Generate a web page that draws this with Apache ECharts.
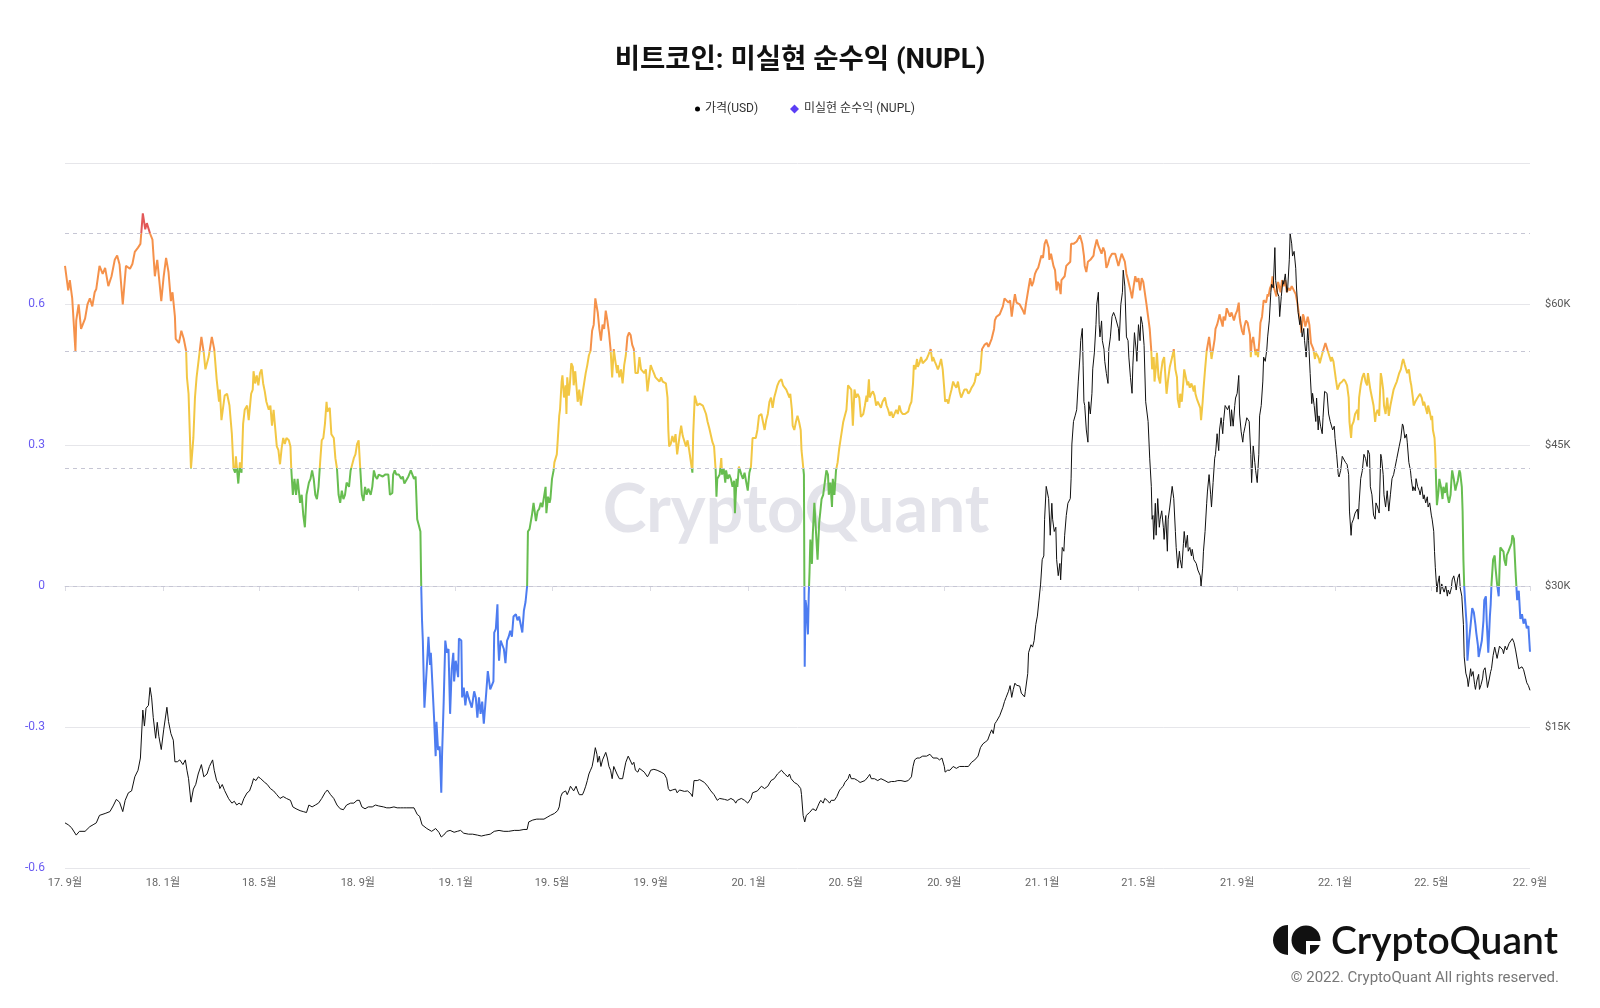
<!DOCTYPE html>
<html>
<head>
<meta charset="utf-8">
<script src="https://cdn.jsdelivr.net/npm/echarts@6/dist/echarts.min.js"></script>
<style>
html,body{margin:0;padding:0;background:#fff;}
#chart{width:1600px;height:1008px;}
</style>
</head>
<body>
<div id="chart"></div>
<script>
// ---- data ----
const startDate = '2017-09-01';
const dayCount = 1827;
const xTickDates = ['2017-09-01','2018-01-01','2018-05-01','2018-09-01','2019-01-01','2019-05-01','2019-09-01','2020-01-01','2020-05-01','2020-09-01','2021-01-01','2021-05-01','2021-09-01','2022-01-01','2022-05-01','2022-09-01'];
const xTickLabels = ['17. 9월','18. 1월','18. 5월','18. 9월','19. 1월','19. 5월','19. 9월','20. 1월','20. 5월','20. 9월','21. 1월','21. 5월','21. 9월','22. 1월','22. 5월','22. 9월'];
const nuplThresholds = [0, 0.25, 0.5, 0.75];
const nuplBandColors = ['#4d7cf0', '#67bd50', '#f2c744', '#f5914a', '#e25858'];

// NUPL: [day offset from startDate, value]
const nuplPoints = [
[0,0.681],[4,0.629],[6,0.651],[9,0.612],[13,0.5],[14,0.565],[17,0.599],[20,0.547],[25,0.569],[28,0.599],[31,0.612],[34,0.595],[37,0.625],[39,0.632],[43,0.681],[47,0.664],[50,0.677],[54,0.638],[58,0.659],[62,0.694],[65,0.703],[68,0.684],[72,0.599],[76,0.681],[81,0.675],[84,0.685],[87,0.711],[91,0.72],[94,0.728],[97,0.793],[100,0.759],[102,0.772],[106,0.75],[109,0.737],[112,0.659],[115,0.694],[117,0.659],[120,0.606],[123,0.659],[126,0.698],[129,0.668],[132,0.606],[134,0.625],[137,0.573],[138,0.526],[142,0.517],[145,0.543],[148,0.526],[151,0.5],[152,0.444],[154,0.409],[157,0.25],[160,0.315],[162,0.401],[164,0.444],[167,0.487],[170,0.53],[173,0.496],[175,0.461],[179,0.487],[183,0.53],[186,0.504],[189,0.44],[192,0.392],
[193,0.418],[195,0.353],[197,0.349],[199,0.405],[202,0.409],[205,0.384],[208,0.323],[210,0.25],[212,0.241],[213,0.276],[215,0.237],[216,0.218],[218,0.263],[220,0.241],[222,0.345],[224,0.375],[227,0.384],[229,0.353],[232,0.409],[234,0.418],[235,0.457],[237,0.431],[239,0.448],[241,0.427],[243,0.453],[245,0.461],[247,0.431],[249,0.414],[251,0.392],[254,0.375],[256,0.384],[258,0.341],[260,0.375],[262,0.336],[264,0.297],[266,0.289],[268,0.259],[270,0.293],[272,0.315],[274,0.302],[276,0.315],[279,0.31],[281,0.297],[282,0.25],[284,0.194],[286,0.228],[288,0.194],[290,0.228],[292,0.228],[293,0.177],[295,0.194],[297,0.151],[299,0.125],[301,0.194],[304,0.22],[306,0.228],[308,0.246],[310,0.228],[312,0.194],[314,0.185],[316,0.211],[318,0.263],[320,0.31],[322,0.315],[324,0.345],[326,0.392],[327,0.371],[330,0.379],[332,0.323],[335,0.315],[337,0.272],[339,0.25],[341,0.194],[343,0.177],[345,0.203],[347,0.185],[349,0.194],[351,0.22],[354,0.211],[356,0.246],[358,0.25],[360,0.272],[362,0.28],[364,0.302],[366,0.31],[368,0.25],[370,0.194],[372,0.181],[374,0.211],[376,0.194],[378,0.207],[381,0.194],[383,0.211],[385,0.246],[387,0.233],[389,0.228],[391,0.237],
[393,0.241],[396,0.233],[399,0.237],[401,0.241],[403,0.237],[405,0.194],[408,0.198],[409,0.237],[411,0.246],[413,0.237],[416,0.237],[419,0.228],[421,0.233],[423,0.218],[425,0.224],[428,0.233],[431,0.246],[433,0.237],[435,0.228],[437,0.233],[439,0.142],[441,0.129],[443,0.116],[444,0],[445,-0.073],[446,-0.116],[448,-0.259],[450,-0.263],[452,-0.142],[453,-0.108],[455,-0.168],[456,-0.142],[458,-0.211],[460,-0.28],[462,-0.362],[463,-0.289],[465,-0.349],[467,-0.341],[469,-0.44],[470,-0.358],[472,-0.246],[474,-0.116],[476,-0.142],[478,-0.134],[480,-0.272],[482,-0.177],[484,-0.142],[485,-0.203],[487,-0.159],[490,-0.194],[491,-0.112],[494,-0.116],[495,-0.237],[497,-0.216],[499,-0.254],[501,-0.224],[503,-0.237],[505,-0.237],[507,-0.259],[510,-0.224],[512,-0.237],[514,-0.28],[516,-0.237],[518,-0.272],[520,-0.246],[522,-0.293],[524,-0.289],[525,-0.228],[527,-0.181],[530,-0.22],[532,-0.22],[534,-0.203],[535,-0.099],[537,-0.091],[539,-0.039],[540,-0.125],[541,-0.159],[543,-0.116],[545,-0.125],[547,-0.134],[549,-0.164],[551,-0.116],[553,-0.108],[555,-0.095],[557,-0.108],[559,-0.065],[562,-0.06],[564,-0.073],[566,-0.065],[568,-0.082],[570,-0.099],[572,-0.052],[574,-0.034],[576,0],[577,0.116],[579,0.121],[582,0.151],[584,0.177],[585,0.181],[587,0.138],[589,0.159],[591,0.164],
[593,0.177],[595,0.168],[597,0.172],[599,0.211],[600,0.155],[602,0.19],[604,0.177],[605,0.185],[607,0.228],[609,0.246],[610,0.263],[613,0.28],[614,0.306],[616,0.362],[617,0.375],[619,0.435],[620,0.448],[622,0.401],[624,0.427],[625,0.366],[626,0.444],[628,0.405],[629,0.422],[631,0.474],[633,0.466],[634,0.427],[636,0.457],[638,0.461],[639,0.392],[641,0.418],[643,0.384],[645,0.409],[647,0.405],[649,0.453],[651,0.47],[653,0.491],[655,0.5],[657,0.543],[659,0.556],[661,0.612],[664,0.582],[666,0.547],[668,0.522],[670,0.556],[672,0.547],[674,0.586],[676,0.565],[678,0.539],[680,0.504],[682,0.444],[684,0.504],[685,0.5],[688,0.453],[689,0.47],[691,0.444],[693,0.461],[695,0.431],[697,0.47],[699,0.491],[701,0.53],[703,0.539],[705,0.534],[707,0.513],[709,0.504],[711,0.453],[714,0.453],[716,0.487],[718,0.461],[720,0.457],[722,0.453],[724,0.461],[726,0.414],[728,0.418],[730,0.47],[732,0.461],[734,0.453],[736,0.444],[738,0.448],[741,0.435],[743,0.444],[745,0.435],[747,0.435],[749,0.431],[751,0.401],[752,0.332],[753,0.297],[755,0.302],[757,0.319],[759,0.306],[761,0.323],[763,0.28],[766,0.319],[768,0.341],[770,0.319],[772,0.315],[774,0.297],[776,0.31],[778,0.289],[780,0.293],[782,0.241],[783,0.323],[785,0.405],[787,0.392],[788,0.384],[791,0.388],
[793,0.392],[795,0.384],[797,0.388],[799,0.366],[801,0.349],[803,0.336],[805,0.332],[807,0.306],[809,0.297],[811,0.246],[812,0.19],[813,0.228],[816,0.237],[818,0.272],[819,0.237],[821,0.25],[823,0.22],[824,0.246],[826,0.228],[828,0.237],[830,0.228],[832,0.211],[834,0.224],[835,0.155],[837,0.228],[838,0.211],[840,0.254],[843,0.237],[845,0.228],[847,0.241],[849,0.237],[851,0.203],[853,0.241],[855,0.254],[857,0.315],[859,0.319],[861,0.315],[863,0.332],[865,0.362],[868,0.366],[870,0.349],[872,0.332],[874,0.353],[876,0.366],[878,0.392],[880,0.401],[882,0.379],[884,0.401],[886,0.414],[888,0.427],[890,0.435],[893,0.44],[895,0.427],[897,0.431],[899,0.418],[901,0.422],[903,0.401],[904,0.409],[906,0.375],[907,0.341],[909,0.332],[911,0.349],[913,0.362],[915,0.349],[917,0.332],[918,0.289],[919,0.272],[921,0.237],[922,-0.172],[923,-0.03],[924,-0.043],[926,-0.103],[927,-0.02],[928,0.03],[929,0.099],[931,0.047],[932,0.108],[934,0.177],[936,0.177],[938,0.056],[940,0.134],[942,0.168],[943,0.185],[945,0.194],[947,0.22],[949,0.246],[951,0.237],[952,0.194],[954,0.22],[956,0.168],[957,0.228],[959,0.194],[961,0.246],[963,0.263],[965,0.293],[967,0.297],[970,0.349],[972,0.362],[974,0.375],[976,0.427],[978,0.431],[980,0.418],[982,0.341],[984,0.418],[986,0.401],[988,0.409],[990,0.401],
[992,0.36],[995,0.366],[997,0.384],[999,0.405],[1000,0.392],[1002,0.44],[1003,0.401],[1005,0.409],[1007,0.414],[1009,0.405],[1011,0.384],[1013,0.392],[1015,0.388],[1017,0.379],[1019,0.392],[1022,0.401],[1024,0.384],[1026,0.375],[1028,0.362],[1030,0.371],[1032,0.358],[1034,0.362],[1036,0.375],[1038,0.366],[1040,0.384],[1042,0.371],[1044,0.366],[1047,0.366],[1049,0.362],[1051,0.371],[1053,0.384],[1055,0.392],[1057,0.431],[1058,0.47],[1060,0.461],[1062,0.483],[1063,0.466],[1065,0.474],[1067,0.487],[1069,0.474],[1071,0.478],[1074,0.483],[1076,0.491],[1078,0.487],[1079,0.504],[1081,0.478],[1082,0.487],[1084,0.478],[1086,0.47],[1088,0.461],[1090,0.47],[1092,0.483],[1094,0.461],[1096,0.418],[1097,0.392],[1099,0.397],[1101,0.388],[1103,0.405],[1105,0.418],[1107,0.435],[1109,0.427],[1111,0.422],[1113,0.435],[1115,0.414],[1117,0.401],[1119,0.397],[1121,0.418],[1124,0.418],[1126,0.409],[1128,0.414],[1130,0.422],[1132,0.427],[1134,0.435],[1136,0.453],[1138,0.448],[1140,0.453],[1141,0.461],[1143,0.504],[1145,0.504],[1146,0.513],[1149,0.517],[1151,0.509],[1153,0.517],[1155,0.526],[1157,0.522],[1158,0.547],[1159,0.565],[1161,0.573],[1163,0.569],[1165,0.578],[1167,0.582],[1169,0.595],[1171,0.612],[1173,0.616],[1176,0.603],[1178,0.608],[1180,0.573],[1182,0.599],[1184,0.621],[1186,0.603],[1188,0.599],[1190,0.599],
[1192,0.599],[1194,0.586],[1196,0.578],[1197,0.591],[1198,0.603],[1201,0.634],[1203,0.655],[1205,0.638],[1207,0.647],[1209,0.664],[1211,0.672],[1213,0.677],[1215,0.69],[1217,0.703],[1219,0.698],[1221,0.728],[1223,0.737],[1226,0.72],[1227,0.694],[1229,0.707],[1231,0.69],[1232,0.681],[1234,0.672],[1236,0.629],[1237,0.647],[1239,0.642],[1241,0.621],[1242,0.651],[1244,0.651],[1246,0.659],[1248,0.681],[1250,0.685],[1253,0.69],[1254,0.728],[1255,0.724],[1257,0.728],[1259,0.724],[1261,0.733],[1263,0.737],[1265,0.746],[1267,0.746],[1268,0.728],[1270,0.703],[1271,0.681],[1273,0.668],[1275,0.69],[1278,0.694],[1280,0.69],[1282,0.703],[1283,0.716],[1285,0.72],[1286,0.737],[1288,0.724],[1290,0.72],[1292,0.707],[1294,0.72],[1296,0.711],[1298,0.677],[1300,0.685],[1302,0.698],[1305,0.707],[1307,0.703],[1309,0.707],[1311,0.694],[1313,0.681],[1315,0.694],[1317,0.707],[1319,0.703],[1321,0.69],[1323,0.664],[1325,0.651],[1328,0.629],[1330,0.612],[1332,0.638],[1334,0.659],[1336,0.647],[1338,0.655],[1340,0.629],[1342,0.655],[1344,0.647],[1346,0.647],[1348,0.599],[1350,0.573],[1352,0.547],[1354,0.5],[1355,0.461],[1357,0.487],[1358,0.435],[1360,0.47],[1361,0.496],[1363,0.444],[1365,0.431],[1366,0.453],[1368,0.478],[1370,0.487],[1371,0.461],[1373,0.409],[1375,0.44],[1377,0.466],[1380,0.487],[1382,0.504],[1384,0.461],[1386,0.444],[1387,0.397],[1389,0.379],[1390,0.409],
[1392,0.392],[1394,0.435],[1395,0.461],[1397,0.444],[1399,0.427],[1400,0.435],[1402,0.422],[1404,0.431],[1407,0.414],[1408,0.427],[1409,0.409],[1411,0.397],[1413,0.388],[1415,0.379],[1416,0.353],[1418,0.392],[1419,0.418],[1421,0.461],[1423,0.5],[1424,0.504],[1426,0.53],[1428,0.5],[1429,0.483],[1431,0.504],[1433,0.526],[1434,0.547],[1436,0.556],[1438,0.569],[1439,0.578],[1441,0.565],[1443,0.552],[1444,0.573],[1446,0.565],[1448,0.591],[1450,0.582],[1452,0.573],[1454,0.582],[1457,0.565],[1459,0.578],[1461,0.586],[1463,0.603],[1464,0.573],[1465,0.56],[1467,0.543],[1469,0.534],[1470,0.552],[1472,0.565],[1474,0.56],[1475,0.556],[1477,0.534],[1478,0.487],[1479,0.517],[1481,0.53],[1483,0.504],[1484,0.491],[1486,0.504],[1487,0.487],[1489,0.53],[1490,0.56],[1492,0.573],[1494,0.608],[1495,0.612],[1497,0.603],[1499,0.621],[1500,0.616],[1502,0.634],[1504,0.642],[1505,0.659],[1507,0.634],[1509,0.638],[1510,0.616],[1512,0.647],[1514,0.634],[1515,0.625],[1517,0.651],[1519,0.638],[1521,0.651],[1523,0.625],[1525,0.634],[1527,0.629],[1529,0.638],[1531,0.634],[1534,0.621],[1536,0.603],[1538,0.578],[1540,0.56],[1541,0.539],[1543,0.578],[1544,0.573],[1546,0.552],[1548,0.565],[1549,0.573],[1551,0.556],[1553,0.517],[1554,0.513],[1556,0.504],[1558,0.483],[1559,0.496],[1561,0.491],[1563,0.483],[1564,0.474],[1566,0.487],[1568,0.5],[1569,0.504],[1571,0.517],[1573,0.513],[1574,0.5],[1576,0.5],[1578,0.478],[1579,0.487],[1581,0.478],[1583,0.453],[1584,0.44],[1586,0.418],[1588,0.422],[1589,0.431],[1591,0.427],
[1592,0.435],[1594,0.44],[1596,0.435],[1598,0.427],[1600,0.401],[1601,0.349],[1603,0.315],[1604,0.341],[1606,0.349],[1608,0.366],[1611,0.375],[1612,0.353],[1613,0.401],[1615,0.427],[1617,0.444],[1619,0.453],[1621,0.435],[1623,0.427],[1624,0.453],[1626,0.457],[1627,0.418],[1629,0.401],[1631,0.384],[1633,0.349],[1634,0.366],[1636,0.375],[1638,0.362],[1640,0.453],[1641,0.444],[1643,0.418],[1644,0.384],[1646,0.366],[1648,0.401],[1650,0.362],[1652,0.384],[1654,0.401],[1656,0.418],[1658,0.427],[1660,0.435],[1663,0.453],[1665,0.461],[1667,0.478],[1668,0.483],[1670,0.47],[1672,0.47],[1673,0.453],[1675,0.461],[1677,0.435],[1678,0.427],[1680,0.401],[1681,0.384],[1683,0.392],[1684,0.388],[1686,0.401],[1688,0.397],[1689,0.409],[1691,0.401],[1693,0.384],[1694,0.392],[1696,0.379],[1698,0.366],[1699,0.384],[1701,0.371],[1703,0.353],[1704,0.362],[1705,0.332],[1707,0.315],[1708,0.28],[1709,0.22],[1710,0.172],[1712,0.203],[1713,0.228],[1715,0.211],[1717,0.185],[1718,0.211],[1720,0.198],[1722,0.22],[1723,0.194],[1725,0.177],[1727,0.194],[1728,0.224],[1729,0.246],[1731,0.228],[1733,0.203],[1734,0.211],[1736,0.224],[1738,0.246],[1739,0.241],[1741,0.211],[1742,0.159],[1743,0.056],[1744,0],[1745,-0.03],[1747,-0.082],[1748,-0.159],[1750,-0.116],[1751,-0.099],[1752,-0.082],[1754,-0.047],[1756,-0.056],[1758,-0.082],[1759,-0.099],[1761,-0.125],[1762,-0.151],[1764,-0.155],[1766,-0.116],[1768,-0.073],[1769,-0.03],[1771,-0.022],[1772,-0.073],[1774,-0.142],[1776,-0.065],[1777,-0.039],[1778,0.004],[1780,0.056],[1782,0.065],[1783,0.039],[1785,0.004],[1787,-0.022],[1788,0.034],[1789,0.082],[1791,0.086],[1793,0.073],[1794,0.056],[1796,0.043],[1797,0.065],[1799,0.073],[1801,0.082],[1803,0.091],[1804,0.108],[1806,0.1],[1808,0.03],[1810,-0.03],[1812,-0.01],[1814,-0.07],[1816,-0.06],[1818,-0.08],[1820,-0.07],[1822,-0.09],[1824,-0.085],[1826,-0.14]
];

// Price (thousand USD): [day offset from startDate, value]
const pricePoints = [
[0,4.8],[4,4.6],[8,4.3],[14,3.5],[18,3.9],[25,3.9],[31,4.4],[35,4.6],[39,4.8],[43,5.6],[50,5.8],[56,6.0],[60,6.6],[64,7.3],[68,7.0],[72,6.0],[75,7.2],[79,8.0],[83,8.2],[87,9.7],[91,10.4],[94,11.7],[97,16.8],[99,15.1],[101,17.0],[104,17.3],[106,19.2],[108,18.1],[110,16.0],[113,13.8],[115,15.5],[117,14.0],[120,12.6],[123,14.7],[127,17.1],[129,15.6],[132,14.3],[135,13.6],[137,11.3],[140,11.3],[143,11.5],[147,11.0],[150,11.5],[152,10.4],[154,9.5],[157,7.0],[160,8.4],[163,8.9],[166,10.0],[170,11.0],[173,9.7],[177,10.0],[180,10.8],[184,11.5],[186,10.4],[189,9.3],[192,8.9],
[193,8.45],[196,8.88],[199,8.23],[204,7.37],[208,6.9],[211,7.1],[214,6.7],[217,6.9],[220,6.7],[223,7.4],[227,8.0],[230,8.2],[233,8.9],[235,9.5],[238,9.3],[241,9.7],[244,9.5],[246,9.7],[249,9.1],[252,8.9],[256,8.45],[260,8.2],[264,7.8],[268,7.4],[272,7.6],[276,7.4],[281,7.2],[284,6.5],[288,6.3],[293,6.1],[297,6.0],[301,5.9],[304,6.7],[308,6.5],[312,6.7],[316,6.9],[320,7.4],[324,8.0],[327,8.3],[331,7.8],[335,7.4],[339,6.7],[343,6.3],[347,6.2],[351,6.7],[356,6.9],[360,6.9],[364,7.2],[367,7.2],[370,6.5],[374,6.3],[378,6.5],[383,6.5],[387,6.7],[391,6.6],
[393,6.5],[397,6.5],[401,6.4],[405,6.4],[410,6.5],[414,6.4],[418,6.4],[422,6.4],[426,6.4],[430,6.4],[435,6.4],[437,6.3],[439,5.7],[442,5.5],[445,4.6],[447,4.4],[451,4.2],[457,3.9],[462,4.2],[466,3.8],[469,3.3],[472,3.5],[476,3.9],[480,4.0],[485,3.8],[489,3.9],[493,4.0],[497,3.7],[503,3.6],[508,3.6],[514,3.5],[519,3.4],[524,3.5],[530,3.6],[535,3.9],[541,4.0],[547,3.9],[553,3.9],[560,4.0],[566,4.0],[572,4.1],[576,4.1],[578,4.9],[583,5.1],[588,5.2],[591,5.2],
[593,5.4],[597,5.2],[601,5.4],[605,5.6],[610,5.8],[614,6.1],[616,6.5],[618,7.6],[620,8.0],[622,7.8],[624,8.2],[626,7.8],[628,8.2],[630,8.7],[632,8.9],[634,8.2],[637,8.7],[639,8.2],[641,7.8],[643,7.6],[645,7.8],[647,8.2],[649,8.7],[651,9.3],[653,10.0],[655,10.4],[657,10.8],[659,11.7],[661,12.8],[663,12.1],[664,11.25],[666,11.9],[668,10.8],[670,11.5],[672,11.7],[674,12.3],[676,11.7],[678,10.8],[680,10.4],[682,9.5],[684,10.8],[685,10.6],[688,10.0],[691,9.5],[693,9.7],[695,9.5],[697,10.4],[699,11.25],[702,11.9],[704,11.7],[707,11.0],[709,11.25],[711,10.4],[714,10.2],[716,10.6],[718,10.4],[722,10.2],[726,9.7],[728,10.0],[730,10.4],[734,10.5],[738,10.4],[743,10.2],[747,10.0],[750,9.5],[752,8.45],[754,8.2],[757,8.3],[759,8.2],[761,8.4],[763,8.0],[766,8.3],[768,8.2],[772,8.15],[776,8.2],[780,7.9],[782,7.6],[784,9.3],[786,9.5],[788,9.3],[791,9.4],
[793,9.5],[797,9.1],[801,8.7],[805,8.2],[809,7.8],[813,7.2],[816,7.4],[818,7.6],[822,7.3],[826,7.2],[830,7.4],[834,7.2],[836,6.9],[838,7.2],[843,7.4],[847,7.2],[851,6.9],[855,7.4],[857,8.0],[859,7.8],[863,8.2],[868,8.7],[872,8.45],[876,8.7],[880,9.3],[884,9.5],[888,10.0],[893,10.4],[895,10.2],[897,10.0],[899,10.2],[901,9.7],[903,10.0],[905,9.5],[909,9.1],[913,8.9],[917,8.45],[918,7.8],[920,5.6],[922,4.9],[924,5.6],[926,5.4],[928,5.9],[930,6.1],[932,6.3],[934,6.5],[936,6.1],[938,6.5],[940,6.9],[942,7.2],[945,6.9],[947,7.4],[950,7.2],[953,6.9],[955,7.2],[957,7.4],[959,7.2],[962,7.6],[965,8.2],[967,8.45],[970,8.7],[972,9.1],[974,8.9],[976,9.5],[978,10.0],[980,9.5],[982,9.3],[984,9.5],[988,9.3],[991,9.1],
[992,9.0],[997,9.3],[1001,9.7],[1003,9.96],[1005,9.5],[1009,9.5],[1013,9.3],[1017,9.5],[1022,9.3],[1026,9.1],[1030,9.2],[1034,9.2],[1038,9.3],[1042,9.3],[1047,9.2],[1051,9.3],[1055,9.7],[1057,10.8],[1059,11.5],[1062,11.7],[1065,11.7],[1069,11.9],[1074,11.9],[1078,12.1],[1080,12.2],[1082,11.7],[1084,11.9],[1087,11.7],[1090,11.5],[1093,11.7],[1096,10.8],[1097,10.2],[1100,10.4],[1103,10.4],[1105,10.6],[1107,10.8],[1109,11.0],[1111,10.6],[1113,10.4],[1115,10.8],[1117,10.6],[1121,10.8],[1126,10.8],[1130,11.25],[1134,11.5],[1136,11.5],[1138,11.9],[1141,12.8],[1144,13.2],[1147,13.4],[1150,13.6],[1153,14.3],[1155,14.7],[1157,14.3],[1159,15.35],[1161,15.6],[1163,15.8],[1165,16.2],[1167,16.4],[1169,17.1],[1171,17.7],[1173,18.15],[1176,18.8],[1178,19.4],[1180,18.15],[1182,19.0],[1184,19.66],[1186,19.44],[1188,19.23],[1190,19.35],
[1192,18.6],[1196,18.2],[1197,18.8],[1200,20.7],[1201,22.9],[1204,23.75],[1206,23.5],[1208,24.2],[1210,25.9],[1212,26.8],[1214,28.5],[1216,30.2],[1218,32.8],[1220,33.2],[1221,37.1],[1223,40.6],[1226,39.3],[1228,35.4],[1230,38.8],[1231,37.1],[1233,35.8],[1235,36.25],[1236,32.8],[1238,31.1],[1240,32.4],[1241,30.65],[1243,34.1],[1245,33.7],[1246,35.4],[1248,37.5],[1250,38.8],[1253,39.3],[1254,41.4],[1255,45.1],[1257,47.5],[1259,48.1],[1261,48.75],[1263,51.8],[1265,54.35],[1266,56.1],[1268,57.4],[1269,53.5],[1270,49.6],[1271,49.2],[1273,46.6],[1275,45.3],[1276,49.6],[1278,48.3],[1280,50.5],[1281,53.1],[1283,54.8],[1285,57.8],[1286,59.95],[1288,61.25],[1289,57.8],[1290,56.5],[1292,58.2],[1293,56.1],[1295,55.2],[1296,53.9],[1298,52.6],[1300,51.55],[1301,55.2],[1303,56.5],[1305,58.66],[1307,59.1],[1309,58.66],[1311,58.66],[1313,57.4],[1314,56.1],[1316,59.95],[1318,61.25],[1319,63.6],[1321,61.9],[1323,56.5],[1325,56.1],[1326,54.35],[1328,52.2],[1330,50.5],[1331,53.5],[1333,56.95],[1335,55.2],[1336,53.9],[1338,57.8],[1340,56.1],[1341,58.66],[1343,57.8],[1345,55.6],[1347,49.6],[1349,49.6],[1350,47.5],[1352,43.6],[1354,40.6],[1355,37.1],[1356,37.5],[1357,34.96],[1359,38.8],[1360,35.4],[1362,39.3],[1364,36.25],[1365,37.1],[1367,38.0],[1369,36.25],[1370,34.96],[1372,37.5],[1374,33.7],[1375,37.1],[1377,38.4],[1380,40.6],[1382,39.3],[1384,35.8],[1385,34.1],[1387,31.9],[1389,33.7],[1390,32.8],
[1392,31.9],[1394,34.5],[1395,35.8],[1397,34.1],[1399,35.4],[1400,33.7],[1402,34.1],[1404,33.2],[1405,33.9],[1407,32.8],[1409,33.0],[1410,32.4],[1412,31.7],[1414,31.5],[1415,31.1],[1416,30.0],[1418,31.9],[1419,33.7],[1421,35.8],[1423,38.8],[1424,40.1],[1426,41.85],[1428,39.7],[1429,38.4],[1431,41.0],[1433,43.6],[1434,44.0],[1436,46.2],[1438,44.4],[1439,46.6],[1441,47.9],[1443,46.2],[1444,47.5],[1446,49.2],[1448,49.4],[1449,48.75],[1451,49.2],[1453,47.0],[1454,48.75],[1456,47.0],[1458,49.2],[1459,50.0],[1461,50.5],[1463,52.4],[1464,48.3],[1466,46.4],[1468,45.3],[1469,46.2],[1471,47.0],[1473,47.9],[1474,48.1],[1476,47.5],[1478,44.0],[1479,41.0],[1481,44.9],[1483,43.15],[1484,42.3],[1486,41.0],[1488,44.0],[1489,48.1],[1491,49.2],[1493,51.8],[1494,54.35],[1496,53.9],[1498,55.2],[1499,56.5],[1501,58.2],[1503,61.25],[1504,62.1],[1506,61.7],[1508,66.0],[1509,62.5],[1511,61.25],[1513,60.8],[1514,58.66],[1516,60.8],[1518,62.5],[1519,62.1],[1521,63.2],[1523,61.25],[1524,61.7],[1526,64.7],[1527,67.5],[1529,66.4],[1530,65.1],[1532,65.6],[1534,63.8],[1535,61.7],[1537,59.1],[1539,57.8],[1540,58.66],[1542,56.5],[1544,57.4],[1545,56.1],[1547,54.35],[1549,57.4],[1550,56.1],[1552,52.6],[1554,49.4],[1555,50.5],[1557,49.2],[1559,47.5],[1560,50.0],[1562,46.6],[1563,48.1],[1565,47.0],[1567,46.2],[1568,47.9],[1570,50.7],[1572,50.9],[1573,50.5],[1575,48.3],[1577,47.5],[1578,47.7],[1580,46.6],[1582,47.0],[1583,45.7],[1585,44.0],[1587,41.85],[1588,41.6],[1590,42.3],
[1592,43.79],[1594,43.58],[1596,43.15],[1598,42.93],[1600,41.85],[1601,37.97],[1603,35.39],[1604,36.68],[1606,37.11],[1608,37.76],[1611,38.19],[1612,37.11],[1613,38.84],[1615,41.42],[1617,42.28],[1619,44.01],[1621,43.58],[1623,42.71],[1624,44.44],[1626,44.01],[1627,40.56],[1629,39.7],[1631,37.54],[1633,37.11],[1634,38.84],[1636,38.4],[1638,37.76],[1640,44.01],[1641,43.58],[1643,41.85],[1644,39.7],[1646,38.4],[1648,40.13],[1650,37.97],[1652,39.7],[1654,41.42],[1656,41.85],[1658,42.71],[1660,43.58],[1663,44.87],[1665,45.73],[1667,47.24],[1668,47.02],[1670,45.73],[1672,46.16],[1673,45.3],[1675,43.15],[1677,42.28],[1678,41.42],[1680,40.13],[1681,40.56],[1683,40.13],[1684,41.42],[1686,40.56],[1688,40.13],[1689,39.7],[1691,40.56],[1693,39.27],[1694,39.7],[1696,38.84],[1698,39.49],[1699,38.4],[1701,38.84],[1703,37.54],[1704,37.11],[1706,35.82],[1707,33.66],[1708,31.94],[1710,29.35],[1711,30.22],[1713,31.08],[1714,29.14],[1716,30.22],[1718,29.57],[1719,29.35],[1721,30.0],[1723,28.92],[1724,29.57],[1726,29.14],[1728,29.79],[1729,30.65],[1731,31.08],[1733,30.22],[1734,29.57],[1736,30.86],[1738,31.29],[1739,29.79],[1741,28.92],[1743,25.91],[1744,22.46],[1746,20.73],[1748,20.1],[1749,19.3],[1750,19.9],[1752,21.2],[1753,20.4],[1755,20.9],[1757,19.5],[1758,19.0],[1760,20.0],[1762,20.6],[1763,19.0],[1765,19.5],[1767,20.2],[1768,21.0],[1770,21.3],[1772,20.0],[1773,19.2],[1775,20.0],[1777,20.9],[1778,21.2],[1780,22.6],[1782,23.5],[1783,23.1],[1785,22.3],[1787,22.5],[1788,23.6],[1790,23.4],[1792,23.2],[1793,22.8],[1795,23.6],[1797,23.2],[1798,23.0],[1800,23.9],[1802,24.1],[1804,24.4],[1806,24.0],[1808,23.2],[1810,23.0],[1812,21.2],[1814,21.3],[1816,21.4],[1818,21.1],[1820,21.2],[1822,19.7],[1824,19.4],[1826,18.9]
];

// ---- categories (daily) ----
const categories = [];
(function(){
  const p = startDate.split('-').map(Number);
  const t0 = Date.UTC(p[0], p[1]-1, p[2]);
  for (let i = 0; i < dayCount; i++) categories.push(new Date(t0 + i*86400000).toISOString().slice(0,10));
})();
const tickIndex = {};
xTickDates.forEach((d, i) => { tickIndex[d] = xTickLabels[i]; });
const isTick = (idx, val) => Object.prototype.hasOwnProperty.call(tickIndex, val);

const chart = echarts.init(document.getElementById('chart'), null, {renderer: 'canvas'});
const FONT = 'Roboto, "Noto Sans CJK KR", sans-serif';

chart.setOption({
  animation: false,
  backgroundColor: '#ffffff',
  title: {
    text: '비트코인: 미실현 순수익 (NUPL)',
    left: 'center', top: 42,
    textStyle: {fontFamily: 'Roboto, "Noto Sans CJK KR", sans-serif', fontSize: 27.5, fontWeight: 'bold', color: '#111'}
  },
  legend: [
    {data: ['가격(USD)'], left: 690, top: 98, icon: 'circle', itemWidth: 5, itemHeight: 5,
     textStyle: {fontFamily: FONT, fontSize: 12, color: '#333'}, selectedMode: false},
    {data: ['미실현 순수익 (NUPL)'], left: 785, top: 98, icon: 'diamond', itemWidth: 9, itemHeight: 9,
     textStyle: {fontFamily: FONT, fontSize: 12, color: '#333'}, selectedMode: false}
  ],
  grid: {left: 65, right: 70, top: 163, bottom: 140, containLabel: false},
  xAxis: {
    type: 'category', data: categories, boundaryGap: false,
    axisLine: {lineStyle: {color: '#dcdce4'}},
    axisTick: {show: true, interval: isTick, length: 5, lineStyle: {color: '#dcdce4'}},
    axisLabel: {interval: isTick, formatter: v => tickIndex[v] || '', color: '#666', fontSize: 11, fontFamily: FONT, margin: 10},
    splitLine: {show: false}
  },
  yAxis: [
    {type: 'value', min: -0.6, max: 0.9, interval: 0.3, position: 'left',
     axisLine: {show: false}, axisTick: {show: false},
     axisLabel: {color: '#6a5cf2', fontSize: 12, fontFamily: FONT, margin: 20, showMaxLabel: false,
                 formatter: v => String(Math.round(v*10)/10)},
     splitLine: {show: true, lineStyle: {color: ['#e6e6ea','#e6e6ea','rgba(0,0,0,0)','#e6e6ea','#e6e6ea','#e6e6ea'], width: 1}}},
    {type: 'value', min: 0, max: 75, interval: 15, position: 'right',
     axisLine: {show: false}, axisTick: {show: false},
     axisLabel: {color: '#555', fontSize: 11, fontFamily: FONT, margin: 15, showMinLabel: false, showMaxLabel: false,
                 formatter: v => '$' + v + 'K'},
     splitLine: {show: false}}
  ],
  visualMap: {
    show: false, type: 'piecewise', seriesIndex: 0, dimension: 1,
    pieces: [
      {lt: nuplThresholds[0], color: nuplBandColors[0]},
      {gte: nuplThresholds[0], lt: nuplThresholds[1], color: nuplBandColors[1]},
      {gte: nuplThresholds[1], lt: nuplThresholds[2], color: nuplBandColors[2]},
      {gte: nuplThresholds[2], lt: nuplThresholds[3], color: nuplBandColors[3]},
      {gte: nuplThresholds[3], color: nuplBandColors[4]}
    ]
  },
  series: [
    {
      name: '미실현 순수익 (NUPL)', type: 'line', yAxisIndex: 0, color: '#5b3ef5',
      data: nuplPoints, showSymbol: false, symbol: 'none', lineStyle: {width: 2}, z: 3,
      markLine: {
        silent: true, symbol: ['none','none'], label: {show: false},
        lineStyle: {color: '#c6c6d4', type: [4, 4], width: 1},
        data: nuplThresholds.map(t => ({yAxis: t}))
      }
    },
    {
      name: '가격(USD)', type: 'line', yAxisIndex: 1, color: '#000',
      data: pricePoints, showSymbol: false, symbol: 'none', lineStyle: {width: 1, color: '#111'}, z: 4
    }
  ],
  graphic: [
    {type: 'text', x: 796, y: 511, z: 0, silent: true,
     style: {text: 'CryptoQuant', fill: '#e3e3ea', font: 'bold 66px Lato, "Open Sans", sans-serif', textAlign: 'center', textVerticalAlign: 'middle'}},
    {type: 'sector', z: 10, shape: {cx: 1288, cy: 940, r: 15, r0: 0, startAngle: Math.PI/2, endAngle: Math.PI*3/2, clockwise: true}, style: {fill: '#111'}},
    {type: 'circle', z: 10, shape: {cx: 1306, cy: 940, r: 14.5}, style: {fill: '#111'}},
    {type: 'rect', z: 11, shape: {x: 1306, y: 941, width: 16, height: 4}, style: {fill: '#fff'}},
    {type: 'rect', z: 11, shape: {x: 1306, y: 941, width: 4, height: 16}, style: {fill: '#fff'}},
    {type: 'text', z: 10, x: 1331, y: 941,
     style: {text: 'CryptoQuant', fill: '#111', font: '600 39px Lato, "Open Sans", sans-serif', textAlign: 'left', textVerticalAlign: 'middle'}},
    {type: 'text', z: 10, x: 1559, y: 978,
     style: {text: '© 2022. CryptoQuant All rights reserved.', fill: '#777', font: '15px Roboto, sans-serif', textAlign: 'right', textVerticalAlign: 'middle'}}
  ]
});
</script>
</body>
</html>
